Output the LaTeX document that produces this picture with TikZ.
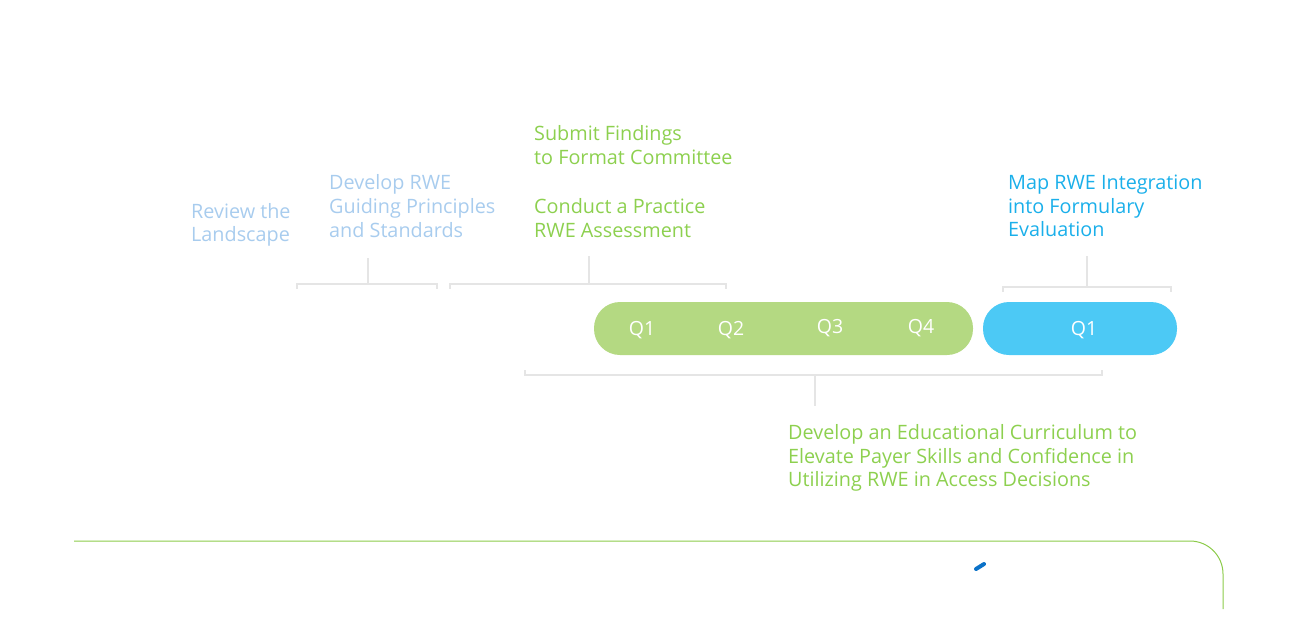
\documentclass[tikz,border=0pt]{standalone}
\usepackage{fontspec}
\setmainfont{Open Sans}
\usepackage{xcolor}
\definecolor{paleblue}{HTML}{A8CCEE}
\definecolor{leaf}{HTML}{8DD04F}
\definecolor{sky}{HTML}{1AAFEA}
\definecolor{pillgreen}{HTML}{B4D982}
\definecolor{pillblue}{HTML}{4CC9F5}
\definecolor{brackgray}{HTML}{E5E5E5}
\definecolor{rule}{HTML}{8CCB4A}
\definecolor{tickblue}{HTML}{0B72C8}
\usepackage{tikz}
\usetikzlibrary{positioning, calc}

\begin{document}
\begin{tikzpicture}[x=1pt, y=-1pt,
  txt/.style={anchor=west, align=left, inner sep=0pt,
              font=\fontsize{19.8}{23.7}\selectfont},
  pill/.style={rounded corners=26pt, minimum height=53pt, inner sep=0pt},
  qlab/.style={text=white, font=\fontsize{19.5}{22}\selectfont, inner sep=0pt},
  brk/.style={draw=brackgray, line width=2.4pt}]
  \useasboundingbox (0,0) rectangle (1300,619);
  % milestone texts
  \node[txt, text=paleblue] (land) at (191,225) {Review the\\Landscape};
  \node[txt, text=paleblue] (princ) at (329,206) {Develop RWE\\Guiding Principles\\and Standards};
  \node[txt, text=leaf] (submit) at (534,145) {Submit Findings\\to Format Committee};
  \node[txt, text=leaf] (practice) at (534,218) {Conduct a Practice\\RWE Assessment};
  \node[txt, text=sky] (map) at (1008,206) {Map RWE Integration\\into Formulary\\Evaluation};
  \node[txt, text=leaf] (curr) at (788,458) {Develop an Educational Curriculum to\\Elevate Payer Skills and Confidence in\\Utilizing RWE in Access Decisions};
  % quarter pills
  \node[pill, fill=pillgreen, minimum width=379pt] (year1) at (783.5,328.5) {};
  \node[pill, fill=pillblue, minimum width=194pt] (year2) at (1080,328.5) {};
  \node[qlab] (q1) at (642,330) {Q1};
  \node[qlab] (q2) at (731,330) {Q2};
  \node[qlab] (q3) at (830,328) {Q3};
  \node[qlab] (q4) at (921,328) {Q4};
  \node[qlab] (q5) at (1084,330) {Q1};
  % brackets
  \coordinate (b1) at (368,258);
  \draw[brk] (297,289) |- (437,284) -- (437,289);
  \draw[brk] (b1) -- (368,284);
  \coordinate (b2) at (589,256);
  \draw[brk] (450,289) |- (726,284) -- (726,289);
  \draw[brk] (b2) -- (589,284);
  \coordinate (b3) at (1087,256);
  \draw[brk] (1003,292) |- (1171,287) -- (1171,292);
  \draw[brk] (b3) -- (1087,287);
  \coordinate (b4) at (815,406);
  \draw[brk] (525,370) |- (1102,375) -- (1102,370);
  \draw[brk] (b4) -- (815,375);
  % footer rule
  \draw[rule, line width=1pt] (74,541) -- (1190,541) arc[start angle=-90, end angle=0, radius=33] -- (1223,609);
  \draw[tickblue, line width=4pt, line cap=round] (976,569) -- (984,564);
\end{tikzpicture}
\end{document}
